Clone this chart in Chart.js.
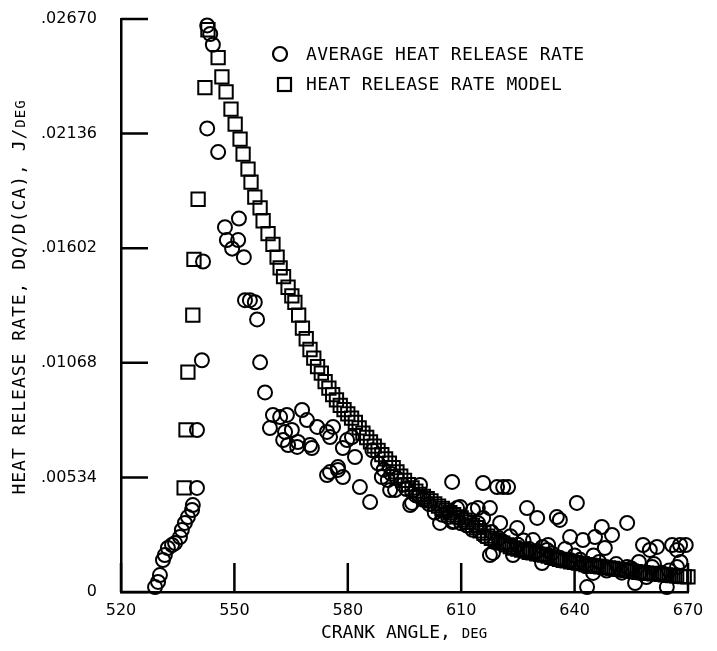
<!DOCTYPE html>
<html>
<head>
<meta charset="utf-8">
<script src="https://cdn.jsdelivr.net/npm/chart.js@4.4.1/dist/chart.umd.min.js"></script>
<style>
  html, body { margin: 0; padding: 0; background: #fff; }
  #wrap { width: 717px; height: 651px; }
</style>
</head>
<body>
<div id="wrap"><canvas id="chart" width="717" height="651"></canvas></div>
<script>
// measured average heat release rate (circles)
const avgAngle = [
  529.0, 529.8, 530.3, 531.1, 531.6, 532.4, 533.5, 534.3, 535.6, 536.1,
  536.9, 537.7, 538.8, 539.0, 540.1, 540.1, 541.4, 541.7, 542.8, 542.8,
  543.6, 544.3, 545.7, 547.5, 548.0, 549.4, 551.0, 551.2, 552.5, 552.8,
  554.1, 555.4, 556.0, 556.8, 558.1, 559.4, 560.2, 562.1, 562.9, 563.4,
  563.9, 564.2, 565.2, 566.6, 566.8, 567.9, 569.2, 570.0, 570.5, 571.9,
  574.5, 574.5, 575.3, 575.3, 576.1, 577.4, 577.4, 578.7, 578.7, 579.8,
  581.1, 581.9, 583.2, 585.9, 586.5, 588.0, 589.0, 589.5, 590.6, 591.2,
  591.5, 592.5, 593.0, 594.5, 595.5, 596.5, 597.0, 598.0, 599.1, 600.0,
  601.5, 603.0, 604.4, 605.0, 606.5, 607.6, 607.8, 608.0, 608.9, 609.7,
  610.0, 611.5, 613.0, 613.1, 614.4, 614.5, 615.8, 615.8, 616.0, 617.6,
  617.6, 618.0, 618.4, 619.5, 620.0, 620.3, 621.1, 621.5, 622.4, 623.0,
  623.7, 624.8, 625.0, 626.5, 627.4, 628.0, 629.0, 630.0, 630.1, 631.4,
  631.5, 632.7, 633.0, 634.0, 635.3, 636.1, 636.0, 637.5, 638.8, 638.8,
  640.0, 640.6, 641.5, 642.2, 643.0, 643.3, 644.9, 645.0, 645.4, 646.5,
  647.2, 648.0, 648.5, 649.9, 651.0, 652.5, 653.9, 653.9, 655.0, 656.0,
  657.0, 657.3, 658.1, 659.0, 659.9, 660.5, 661.0, 661.8, 663.0, 664.4,
  665.0, 665.8, 667.1, 667.1, 667.9, 668.0, 669.4
];
const avgRate = [
  0.00023, 0.00047, 0.00079, 0.00149, 0.00172, 0.00205, 0.00219, 0.00228, 0.00256, 0.00289,
  0.00322, 0.00349, 0.00382, 0.00405, 0.00485, 0.00755, 0.01080, 0.01540, 0.02160, 0.02640,
  0.02600, 0.02550, 0.02050, 0.01700, 0.01640, 0.01600, 0.01640, 0.01740, 0.01560, 0.01360,
  0.01360, 0.01350, 0.01270, 0.01070, 0.00930, 0.00764, 0.00825, 0.00815, 0.00708, 0.00746,
  0.00825, 0.00685, 0.00755, 0.00676, 0.00699, 0.00848, 0.00801, 0.00685, 0.00671, 0.00769,
  0.00746, 0.00545, 0.00722, 0.00559, 0.00769, 0.00569, 0.00582, 0.00671, 0.00536, 0.00708,
  0.00722, 0.00629, 0.00489, 0.00419, 0.00660, 0.00600, 0.00536, 0.00570, 0.00522, 0.00475,
  0.00550, 0.00475, 0.00530, 0.00500, 0.00480, 0.00405, 0.00415, 0.00450, 0.00499, 0.00430,
  0.00410, 0.00370, 0.00322, 0.00360, 0.00350, 0.00513, 0.00326, 0.00330, 0.00391, 0.00396,
  0.00320, 0.00310, 0.00290, 0.00382, 0.00391, 0.00320, 0.00508, 0.00345, 0.00260, 0.00391,
  0.00172, 0.00280, 0.00182, 0.00489, 0.00250, 0.00322, 0.00489, 0.00230, 0.00489, 0.00260,
  0.00172, 0.00298, 0.00220, 0.00240, 0.00391, 0.00200, 0.00242, 0.00190, 0.00345, 0.00135,
  0.00210, 0.00196, 0.00219, 0.00180, 0.00349, 0.00336, 0.00160, 0.00200, 0.00256, 0.00149,
  0.00170, 0.00415, 0.00150, 0.00242, 0.00120, 0.00023, 0.00089, 0.00170, 0.00256, 0.00140,
  0.00303, 0.00205, 0.00100, 0.00266, 0.00130, 0.00090, 0.00322, 0.00116, 0.00110, 0.00042,
  0.00140, 0.00089, 0.00219, 0.00070, 0.00196, 0.00116, 0.00130, 0.00210, 0.00090, 0.00023,
  0.00100, 0.00219, 0.00196, 0.00116, 0.00219, 0.00140, 0.00219
];

// model (squares)
const modelAngle = [
  536.7, 537.2, 537.7, 539.0, 539.3, 540.4, 542.2, 543.0, 545.7, 546.7,
  547.8, 549.1, 550.2, 551.5, 552.3, 553.6, 554.4, 555.4, 556.8, 557.6,
  558.9, 560.2, 561.3, 562.1, 563.0, 564.2, 565.2, 566.0,
  567, 568, 569, 570, 571, 572, 573, 574, 575, 576, 577, 578, 579, 580,
  581, 582, 583, 584, 585, 586, 587, 588, 589, 590, 591, 592, 593, 594,
  595, 596, 597, 598, 599, 600, 601, 602, 603, 604, 605, 606, 607, 608,
  609, 610, 611, 612, 613, 614, 615, 616, 617, 618, 619, 620, 621, 622,
  623, 624, 625, 626, 627, 628, 629, 630, 631, 632, 633, 634, 635, 636,
  637, 638, 639, 640, 641, 642, 643, 644, 645, 646, 647, 648, 649, 650,
  651, 652, 653, 654, 655, 656, 657, 658, 659, 660, 661, 662, 663, 664,
  665, 666, 667, 668, 669, 670
];
const modelRate = [
  0.00485, 0.00755, 0.01025, 0.01290, 0.01550, 0.01830, 0.02350, 0.02620, 0.02490, 0.02400,
  0.02330, 0.02250, 0.02180, 0.02110, 0.02040, 0.01970, 0.01910, 0.01840, 0.01790, 0.01730,
  0.01670, 0.01620, 0.01560, 0.01510, 0.01470, 0.01420, 0.01380, 0.01350,
  0.01290, 0.01230, 0.01180, 0.01130, 0.01090, 0.01050, 0.01020, 0.00980, 0.00950, 0.00920,
  0.00895, 0.00870, 0.00850, 0.00830, 0.00810, 0.00790, 0.00765, 0.00740, 0.00720, 0.00700,
  0.00680, 0.00660, 0.00640, 0.00620, 0.00600, 0.00580, 0.00560, 0.00540, 0.00520, 0.00500,
  0.00485, 0.00470, 0.00455, 0.00445, 0.00435, 0.00425, 0.00410, 0.00400, 0.00390, 0.00380,
  0.00370, 0.00360, 0.00350, 0.00345, 0.00335, 0.00325, 0.00310, 0.00300, 0.00285, 0.00275,
  0.00260, 0.00250, 0.00242, 0.00235, 0.00228, 0.00220, 0.00212, 0.00205, 0.00200, 0.00195,
  0.00190, 0.00185, 0.00182, 0.00178, 0.00175, 0.00172, 0.00167, 0.00162, 0.00157, 0.00152,
  0.00148, 0.00145, 0.00141, 0.00138, 0.00135, 0.00132, 0.00128, 0.00125, 0.00122, 0.00120,
  0.00117, 0.00115, 0.00112, 0.00110, 0.00107, 0.00105, 0.00102, 0.00100, 0.00097, 0.00095,
  0.00092, 0.00090, 0.00088, 0.00087, 0.00085, 0.00084, 0.00082, 0.00080, 0.00078, 0.00076,
  0.00075, 0.00073, 0.00072, 0.00070
];

const xTicks = [520, 550, 580, 610, 640, 670];
const yTicks = [0, 0.00534, 0.01068, 0.01602, 0.02136, 0.0267];
const yTickLabels = ['0', '.00534', '.01068', '.01602', '.02136', '.02670'];

const legendLabels = ['AVERAGE HEAT RELEASE RATE', 'HEAT RELEASE RATE MODEL'];
const xTitle = ['CRANK ANGLE, ', 'DEG'];
const yTitle = ['HEAT RELEASE RATE, DQ/D(CA), J/', 'DEG'];

const BIG = '18px "DejaVu Sans Mono", monospace';
const SMALL = '14px "DejaVu Sans Mono", monospace';

const toPoints = (xs, ys) => xs.map((x, i) => ({ x: x, y: ys[i] }));

// draws a title made of a big part and a small-caps part, centred on 0,0
function drawMixed(ctx, parts, spacing) {
  ctx.letterSpacing = spacing;
  ctx.font = BIG;
  const w1 = ctx.measureText(parts[0]).width;
  ctx.font = SMALL;
  const w2 = ctx.measureText(parts[1]).width;
  const start = -(w1 + w2) / 2;
  ctx.textAlign = 'left';
  ctx.textBaseline = 'alphabetic';
  ctx.font = BIG;
  ctx.fillText(parts[0], start, 6);
  ctx.font = SMALL;
  ctx.fillText(parts[1], start + w1, 6);
  ctx.letterSpacing = '0px';
}

const overlay = {
  id: 'overlay',
  afterDraw(chart) {
    const { ctx, scales: { x, y } } = chart;
    ctx.save();
    ctx.strokeStyle = '#000';
    ctx.fillStyle = '#000';
    ctx.lineWidth = 2.5;

    // inward tick marks
    ctx.beginPath();
    yTicks.forEach(v => {
      const py = y.getPixelForValue(v);
      ctx.moveTo(x.left, py);
      ctx.lineTo(x.left + 27, py);
    });
    xTicks.forEach(v => {
      const px = x.getPixelForValue(v);
      ctx.moveTo(px, y.bottom);
      ctx.lineTo(px, y.bottom - 29);
    });
    ctx.stroke();

    // legend
    ctx.lineWidth = 2.2;
    ctx.beginPath();
    ctx.arc(280, 54, 7, 0, Math.PI * 2);
    ctx.stroke();
    ctx.strokeRect(278, 78, 13, 13);
    ctx.font = BIG;
    ctx.letterSpacing = '0.3px';
    ctx.textAlign = 'left';
    ctx.textBaseline = 'middle';
    ctx.fillText(legendLabels[0], 306, 55);
    ctx.fillText(legendLabels[1], 306, 85);
    ctx.letterSpacing = '0px';

    // axis titles
    ctx.save();
    ctx.translate(404, 632);
    drawMixed(ctx, xTitle, '0px');
    ctx.restore();

    ctx.save();
    ctx.translate(19, 297);
    ctx.rotate(-Math.PI / 2);
    drawMixed(ctx, yTitle, '1px');
    ctx.restore();

    ctx.restore();
  }
};

new Chart(document.getElementById('chart'), {
  type: 'scatter',
  data: {
    datasets: [
      {
        label: legendLabels[0],
        data: toPoints(avgAngle, avgRate),
        pointStyle: 'circle',
        pointRadius: 7,
        borderWidth: 2,
        borderColor: '#000',
        backgroundColor: 'rgba(0,0,0,0)',
        clip: false
      },
      {
        label: legendLabels[1],
        data: toPoints(modelAngle, modelRate),
        pointStyle: 'rect',
        pointRadius: 9.4,
        borderWidth: 2,
        borderColor: '#000',
        backgroundColor: 'rgba(0,0,0,0)',
        clip: false
      }
    ]
  },
  options: {
    responsive: false,
    animation: false,
    layout: { padding: { left: 0, right: 29, top: 19, bottom: 0 } },
    plugins: {
      legend: { display: false },
      tooltip: { enabled: false }
    },
    scales: {
      x: {
        type: 'linear',
        min: 520,
        max: 670,
        afterFit: s => { s.height = 59; s.paddingLeft = 0; s.paddingRight = 0; },
        afterBuildTicks: s => { s.ticks = xTicks.map(v => ({ value: v })); },
        grid: { display: false, drawTicks: false },
        border: { display: true, color: '#000', width: 2.5 },
        ticks: {
          padding: 9,
          color: '#000',
          maxRotation: 0,
          font: { family: '"DejaVu Sans"', size: 16 }
        }
      },
      y: {
        type: 'linear',
        min: 0,
        max: 0.0267,
        afterFit: s => { s.width = 121; s.paddingTop = 0; s.paddingBottom = 0; },
        afterBuildTicks: s => { s.ticks = yTicks.map(v => ({ value: v })); },
        grid: { display: false, drawTicks: false },
        border: { display: true, color: '#000', width: 2.5 },
        ticks: {
          padding: 24,
          color: '#000',
          font: { family: '"DejaVu Sans"', size: 16 },
          callback: (v, i) => yTickLabels[i]
        }
      }
    }
  },
  plugins: [overlay]
});
</script>
</body>
</html>
